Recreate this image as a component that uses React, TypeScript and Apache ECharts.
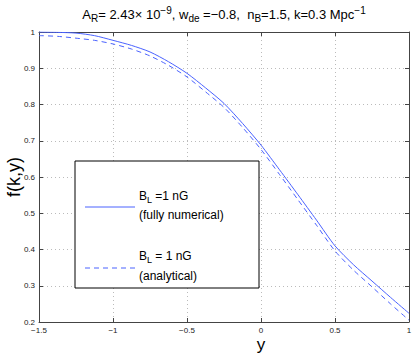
import React, { useEffect, useRef } from "react";
import * as echarts from "echarts";

const xValues = [-1.5, -1.375, -1.25, -1.125, -1, -0.875, -0.75, -0.625, -0.5, -0.375, -0.25, -0.125, 0, 0.125, 0.25, 0.375, 0.5, 0.625, 0.75, 0.875, 1];
const numerical = [1.0, 0.999, 0.997, 0.99, 0.977, 0.963, 0.945, 0.918, 0.886, 0.846, 0.803, 0.748, 0.688, 0.62, 0.551, 0.481, 0.41, 0.358, 0.313, 0.268, 0.224];
const analytical = [0.99, 0.988, 0.983, 0.977, 0.967, 0.953, 0.934, 0.908, 0.876, 0.835, 0.792, 0.737, 0.676, 0.607, 0.537, 0.467, 0.396, 0.343, 0.297, 0.25, 0.205];
const xTickLabels: Record<string, string> = { "-1.5": "\u22121.5", "-1": "\u22121", "-0.5": "\u22120.5", "0": "0", "0.5": "0.5", "1": "1" };

const FONT = "'Liberation Sans', Arial, Helvetica, sans-serif";
const BLUE = "#4a62ff";
const AXIS = "#444";

export default function App() {
  const ref = useRef<HTMLDivElement>(null);
  useEffect(() => {
    if (!ref.current) return;
    const chart = echarts.init(ref.current, null, { renderer: "svg" });
    const sub = { fontSize: 9, fontFamily: FONT, fill: "#000", padding: [8, 0, 0, 0] };
    const sup = { fontSize: 9, fontFamily: FONT, fill: "#000", padding: [0, 0, 8, 0] };
    const base = { fontSize: 12, fontFamily: FONT, fill: "#000" };
    const tsub = { ...sub, fontSize: 10 };
    const tsup = { ...sup, fontSize: 10 };
    const tbase = { ...base, fontSize: 13 };
    chart.setOption({
      animation: false,
      backgroundColor: "#fff",
      grid: { left: 39, right: 6, top: 32, bottom: 32 },
      xAxis: [
        {
          type: "value", min: -1.5, max: 1, interval: 0.5,
          axisLine: { onZero: false, lineStyle: { color: AXIS, width: 1 } },
          axisTick: { inside: true, length: 4, lineStyle: { color: AXIS } },
          axisLabel: { fontSize: 8, fontFamily: FONT, color: "#222", margin: 4,
            formatter: (v: number) => xTickLabels[String(v)] ?? String(v) },
          splitLine: { show: true, lineStyle: { color: "#bbb", type: [1, 3], width: 1 } },
        },
        {
          type: "value", position: "top", min: -1.5, max: 1, interval: 0.5,
          axisLine: { show: true, onZero: false, lineStyle: { color: AXIS, width: 1 } },
          axisTick: { inside: true, length: 4, lineStyle: { color: AXIS } },
          axisLabel: { show: false }, splitLine: { show: false },
        },
      ],
      yAxis: [
        {
          type: "value", min: 0.2, max: 1, interval: 0.1,
          axisLine: { show: true, onZero: false, lineStyle: { color: AXIS, width: 1 } },
          axisTick: { show: true, inside: true, length: 4, lineStyle: { color: AXIS } },
          axisLabel: { fontSize: 8, fontFamily: FONT, color: "#222", margin: 4,
            formatter: (v: number) => String(+v.toFixed(1)) },
          splitLine: { show: true, lineStyle: { color: "#bbb", type: [1, 3], width: 1 } },
        },
        {
          type: "value", position: "right", min: 0.2, max: 1, interval: 0.1,
          axisLine: { show: true, onZero: false, lineStyle: { color: AXIS, width: 1 } },
          axisTick: { show: true, inside: true, length: 4, lineStyle: { color: AXIS } },
          axisLabel: { show: false }, splitLine: { show: false },
        },
      ],
      series: [
        {
          type: "line", name: "numerical", showSymbol: false, smooth: 0.25,
          data: xValues.map((x, i) => [x, numerical[i]]),
          lineStyle: { color: BLUE, width: 1 }, z: 3,
        },
        {
          type: "line", name: "analytical", showSymbol: false, smooth: 0.25,
          data: xValues.map((x, i) => [x, analytical[i]]),
          lineStyle: { color: BLUE, width: 1, type: [5, 4] }, z: 3,
        },
      ],
      graphic: [
        {
          type: "text", x: 224, y: 14, z: 10,
          style: {
            text: "{b|A}{s|R}{b|= 2.43\u00d7 10}{p|\u22129}{b|, w}{s|de}{b| =\u22120.8,  n}{s|B}{b|=1.5, k=0.3 Mpc}{p|\u22121}",
            align: "center", verticalAlign: "middle",
            rich: { b: tbase, s: tsub, p: tsup },
          },
        },
        {
          type: "text", x: 261, y: 344, z: 10,
          style: { text: "y", fontSize: 17, fontFamily: FONT, fill: "#000", align: "center", verticalAlign: "middle" },
        },
        {
          type: "text", x: 14, y: 177, rotation: Math.PI / 2, z: 10,
          style: { text: "f(k,y)", fontSize: 18, fontFamily: FONT, fill: "#000", align: "center", verticalAlign: "middle" },
        },
        {
          type: "rect", z: 20,
          shape: { x: 75, y: 161, width: 184, height: 127 },
          style: { fill: "#fff", stroke: "#000", lineWidth: 1 },
        },
        {
          type: "line", z: 21,
          shape: { x1: 85, y1: 207, x2: 135, y2: 207 },
          style: { stroke: BLUE, lineWidth: 1 },
        },
        {
          type: "line", z: 21,
          shape: { x1: 85, y1: 268, x2: 135, y2: 268 },
          style: { stroke: BLUE, lineWidth: 1, lineDash: [5, 4] },
        },
        {
          type: "text", x: 139, y: 196, z: 21,
          style: { text: "{b|B}{s|L}{b| =1 nG}", verticalAlign: "middle", rich: { b: base, s: sub } },
        },
        {
          type: "text", x: 139, y: 215, z: 21,
          style: { text: "(fully numerical)", fontSize: 12, fontFamily: FONT, fill: "#000", verticalAlign: "middle" },
        },
        {
          type: "text", x: 139, y: 256, z: 21,
          style: { text: "{b|B}{s|L}{b| = 1 nG}", verticalAlign: "middle", rich: { b: base, s: sub } },
        },
        {
          type: "text", x: 139, y: 276, z: 21,
          style: { text: "(analytical)", fontSize: 12, fontFamily: FONT, fill: "#000", verticalAlign: "middle" },
        },
      ],
    });
    return () => chart.dispose();
  }, []);
  return <div ref={ref} style={{ width: 415, height: 354, position: "absolute", left: 0, top: 0 }} />;
}
